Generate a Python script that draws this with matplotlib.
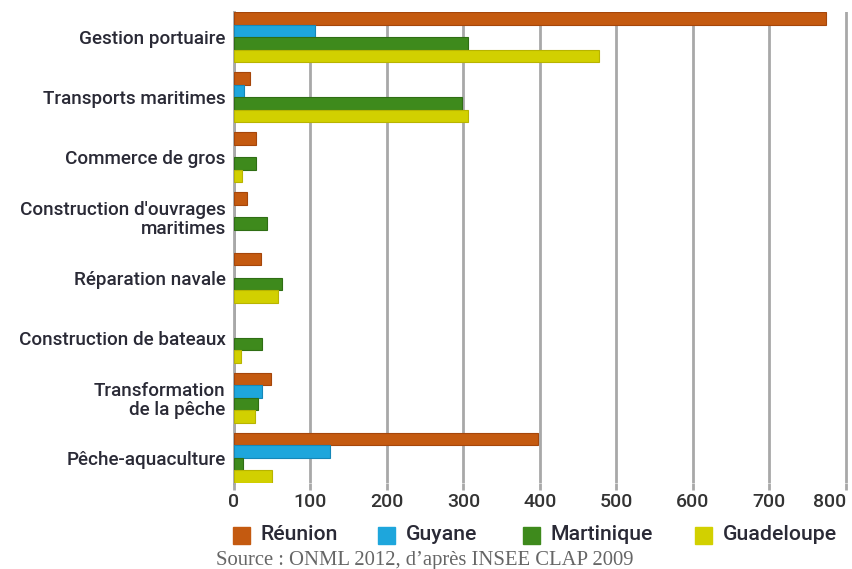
import matplotlib.pyplot as plt
import numpy as np
from matplotlib.patches import Rectangle

categories = ["Gestion portuaire", "Transports maritimes", "Commerce de gros",
              "Construction d'ouvrages\nmaritimes", "Réparation navale",
              "Construction de bateaux", "Transformation\nde la pêche", "Pêche-aquaculture"]
reunion = [774, 21, 29, 17, 35, 0, 49, 398]
guyane = [106, 13, 0, 0, 0, 0, 37, 125]
martinique = [306, 298, 29, 43, 63, 37, 31, 12]
guadeloupe = [477, 306, 11, 0, 57, 9, 28, 50]
series = ["Réunion", "Guyane", "Martinique", "Guadeloupe"]
colors = ["#c45a10", "#1ea6dc", "#3e8a1c", "#d2d000"]
edges = ["#a5460a", "#1587b8", "#2f6e14", "#b8b400"]

font = ["Roboto", "DejaVu Sans"]
W, H = 852, 569

fig = plt.figure(figsize=(W / 100, H / 100), dpi=100)
ax = fig.add_axes([234 / W, 1 - 483 / H, 618 / W, (483 - 12) / H])

y = np.arange(len(categories))
h = 0.208
for i, (vals, c, e) in enumerate(zip([reunion, guyane, martinique, guadeloupe], colors, edges)):
    lw = [0.8 if v > 0 else 0 for v in vals]
    ax.barh(y + (i - 1.5) * h, vals, height=h, color=c, edgecolor=e, linewidth=lw, zorder=3)

ax.set_xlim(0, 808)
ax.set_ylim(len(categories) - 1 + 2 * h, -2 * h)
ticks = list(range(0, 900, 100))
ax.set_xticks(ticks)
ax.xaxis.grid(True, color="#a8a8a8", linewidth=2, zorder=0)
ax.set_axisbelow(True)
for s in ["top", "right", "bottom"]:
    ax.spines[s].set_visible(False)
ax.spines["left"].set_color("#a8a8a8")
ax.spines["left"].set_linewidth(2)
ax.tick_params(axis="x", length=5, width=2, color="#a8a8a8", pad=2)
ax.tick_params(axis="y", length=0, pad=6)
ax.set_xticklabels([str(v) for v in ticks], fontsize=14, color="#333333",
                   family=font, weight="medium")
ax.get_xticklabels()[-1].set_horizontalalignment("right")
ax.get_xticklabels()[-1].set_x(850 / W)
ax.set_yticks(y)
ax.set_yticklabels(categories, fontsize=13.6, color="#2a2a36", family=font,
                   weight="medium", multialignment="right", linespacing=1.05)

# legend drawn by hand to match spacing
leg_x = [233, 378, 523, 695]
for x0, name, c in zip(leg_x, series, colors):
    fig.patches.append(Rectangle((x0 / W, 1 - 544 / H), 17 / W, 17 / H, facecolor=c,
                                 edgecolor=c, transform=fig.transFigure, figure=fig))
    fig.text((x0 + 28) / W, 1 - 535 / H, name, ha="left", va="center", fontsize=15.3,
             color="#2a2a36", family=font, weight="medium")

fig.text(425 / W, 1 - 560 / H, "Source : ONML 2012, d\u2019après INSEE CLAP 2009",
         ha="center", va="center", fontsize=14.9, color="#666666", family="Liberation Serif")

fig.savefig("out.png", dpi=100)
